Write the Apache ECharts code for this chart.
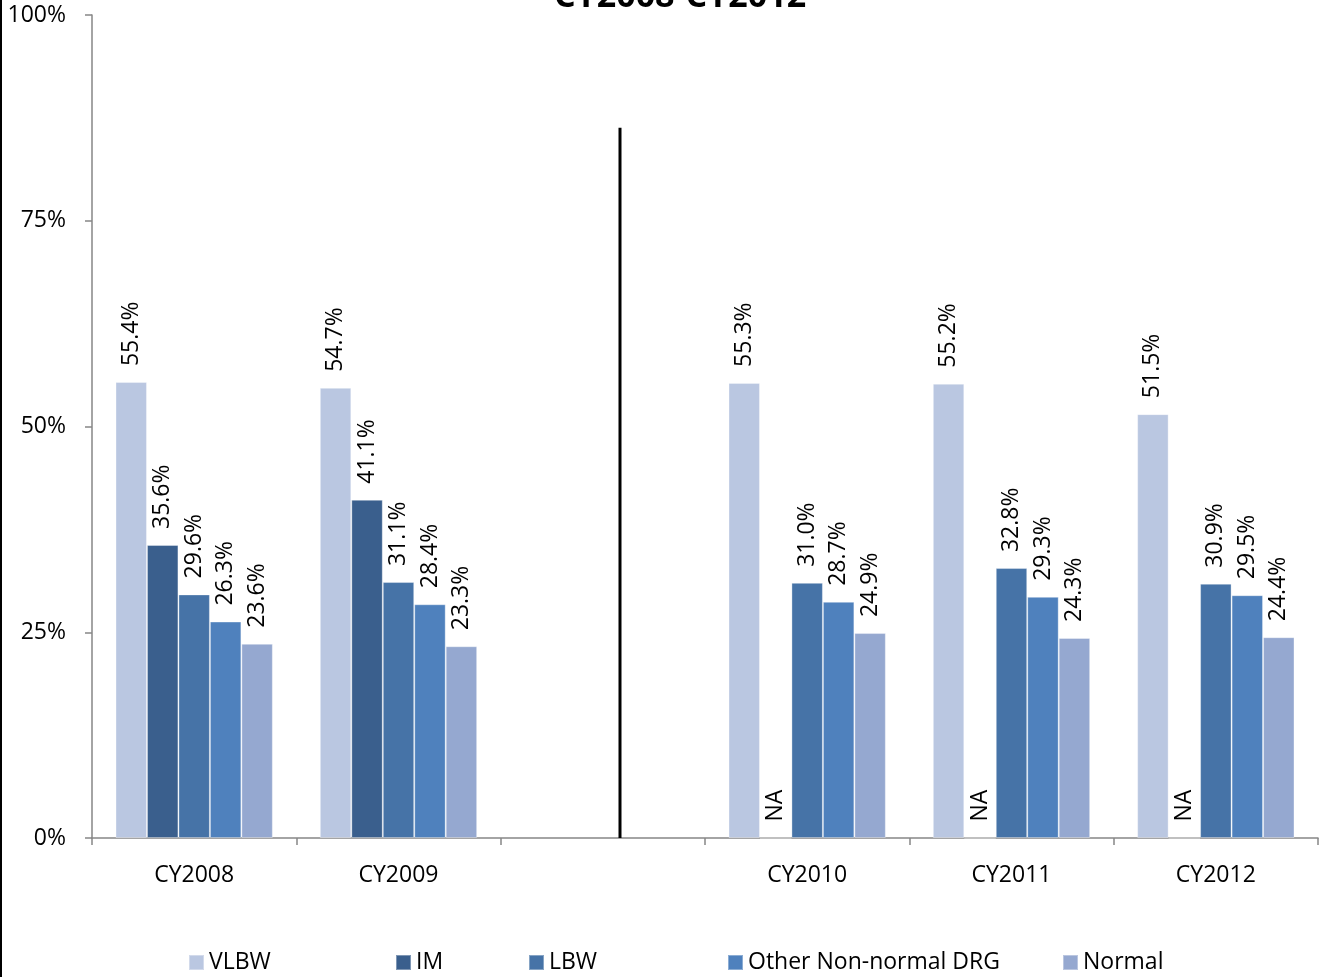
<!DOCTYPE html>
<html>
<head>
<meta charset="utf-8">
<style>
  html, body { margin: 0; padding: 0; background: #fff; }
  #chart { width: 1320px; height: 977px; }
</style>
<script src="https://cdn.jsdelivr.net/npm/echarts@6/dist/echarts.min.js"></script>
</head>
<body>
<div id="chart"></div>
<script>
// Categories (the blank slot separates the two reporting periods)
const categories = ['CY2008', 'CY2009', '', 'CY2010', 'CY2011', 'CY2012'];

// Percent values per group; 'NA' = not available
const vlbw     = [55.4, 54.7, null, 55.3, 55.2, 51.5];
const im       = [35.6, 41.1, null, 'NA', 'NA', 'NA'];
const lbw      = [29.6, 31.1, null, 31.0, 32.8, 30.9];
const otherDrg = [26.3, 28.4, null, 28.7, 29.3, 29.5];
const normal   = [23.6, 23.3, null, 24.9, 24.3, 24.4];

const seriesNames = ['VLBW', 'IM', 'LBW', 'Other Non-normal DRG', 'Normal'];
const yTicks = [0, 25, 50, 75, 100];

// Period divider, in category units on a hidden value axis
const dividerLine = [[2.584, 0], [2.584, 86.3]];

const FONT = '"Open Sans", "Noto Sans", sans-serif';
const colors = ['#BAC7E1', '#3A5F8D', '#4673A7', '#4F81BD', '#95A8D0'];

function toData(arr) {
  return arr.map(v => {
    if (v === 'NA') {
      return { value: 0, label: { formatter: 'NA' } };
    }
    return v;
  });
}

function barSeries(name, arr, color) {
  return {
    name: name,
    type: 'bar',
    data: toData(arr),
    barGap: '0%',
    barCategoryGap: '23%',
    itemStyle: { color: color, borderColor: 'rgba(255,255,255,0.35)', borderWidth: 1 },
    label: {
      show: true,
      position: 'top',
      rotate: 90,
      align: 'left',
      verticalAlign: 'middle',
      distance: 16,
      fontFamily: FONT,
      fontSize: 23,
      color: '#000',
      formatter: p => (typeof p.value === 'number' ? p.value.toFixed(1) + '%' : '')
    },
    emphasis: { disabled: true }
  };
}

const legendPos = [188, 395, 528, 727, 1062];

const chart = echarts.init(document.getElementById('chart'), null, { renderer: 'canvas' });

chart.setOption({
  animation: false,
  backgroundColor: '#fff',
  title: {
    text: 'CY2008-CY2012',
    left: 675,
    top: -25,
    textAlign: 'center',
    textStyle: { fontFamily: FONT, fontWeight: 'bold', fontSize: 34, color: '#000' }
  },
  legend: seriesNames.map((n, i) => ({
    data: [n],
    left: legendPos[i],
    top: 951,
    padding: 0,
    icon: 'rect',
    itemWidth: 15,
    itemHeight: 15,
    selectedMode: false,
    textStyle: { fontFamily: FONT, fontSize: 23, color: '#000' }
  })),
  grid: { left: 92, right: 2, top: 15, bottom: 139, containLabel: false },
  xAxis: [
    {
      type: 'category',
      data: categories,
      axisLine: { lineStyle: { color: '#868686', width: 1.5 } },
      axisTick: { show: true, length: 7, interval: 0, lineStyle: { color: '#868686', width: 1.5 } },
      axisLabel: { interval: 0, margin: 26, fontFamily: FONT, fontSize: 23, color: '#000' },
      splitLine: { show: false }
    },
    {
      type: 'value',
      min: 0,
      max: categories.length,
      show: false
    }
  ],
  yAxis: {
    type: 'value',
    min: yTicks[0],
    max: yTicks[yTicks.length - 1],
    interval: 25,
    axisLine: { show: true, lineStyle: { color: '#868686', width: 1.5 } },
    axisTick: { show: true, length: 7, lineStyle: { color: '#868686', width: 1.5 } },
    splitLine: { show: false },
    axisLabel: { margin: 26, fontFamily: FONT, fontSize: 23, color: '#000', formatter: v => v + '%' }
  },
  series: [
    barSeries(seriesNames[0], vlbw, colors[0]),
    barSeries(seriesNames[1], im, colors[1]),
    barSeries(seriesNames[2], lbw, colors[2]),
    barSeries(seriesNames[3], otherDrg, colors[3]),
    barSeries(seriesNames[4], normal, colors[4]),
    {
      name: 'divider',
      type: 'line',
      xAxisIndex: 1,
      data: dividerLine,
      symbol: 'none',
      silent: true,
      z: 10,
      lineStyle: { color: '#000', width: 3 }
    }
  ],
  graphic: [
    { type: 'rect', left: 0, top: 0, shape: { width: 2, height: 977 }, style: { fill: '#000' }, silent: true }
  ]
});
</script>
</body>
</html>
